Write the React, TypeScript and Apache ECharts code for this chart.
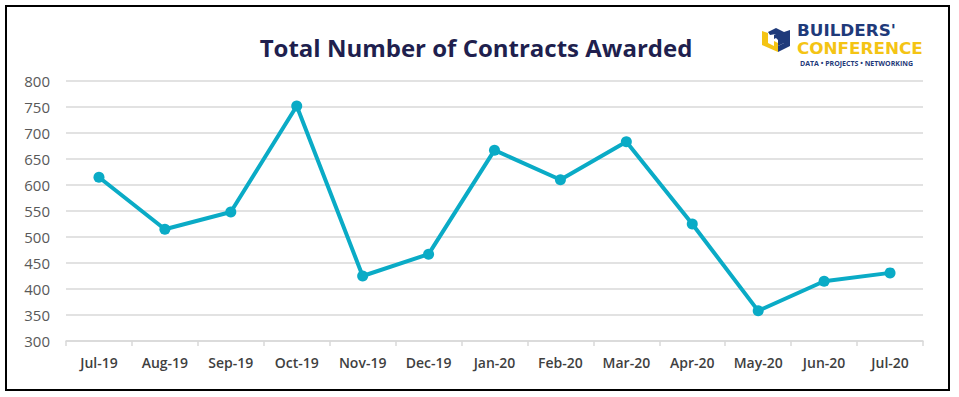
import React, { useEffect, useRef } from "react";
import * as echarts from "echarts";

const categories = ["Jul-19", "Aug-19", "Sep-19", "Oct-19", "Nov-19", "Dec-19", "Jan-20", "Feb-20", "Mar-20", "Apr-20", "May-20", "Jun-20", "Jul-20"];
const contracts = [615, 515, 548, 752, 425, 467, 667, 610, 683, 525, 358, 415, 431];
const yMin = 300;
const yMax = 800;
const yStep = 50;
const titleText = "Total Number of Contracts Awarded";

export default function App() {
  const ref = useRef<HTMLDivElement>(null);
  useEffect(() => {
    if (!ref.current) return;
    const chart = echarts.init(ref.current, null, { renderer: "svg" });
    const navy = "#1f3a7a";
    const yellow = "#f4c414";
    chart.setOption({
      animation: false,
      backgroundColor: "#ffffff",
      title: {
        text: titleText,
        left: 471,
        textAlign: "center",
        top: 30,
        textStyle: { fontFamily: "Open Sans", fontWeight: "bold", fontSize: 24, color: "#201f4e" },
      },
      grid: { left: 66, right: 36, top: 81, bottom: 56 },
      xAxis: {
        type: "category",
        data: categories,
        boundaryGap: true,
        axisLine: { show: true, lineStyle: { color: "#d9d9d9", width: 1.5 } },
        axisTick: { show: true, length: 5, lineStyle: { color: "#d9d9d9", width: 1.5 } },
        axisLabel: { color: "#3f3f3f", fontSize: 14, fontWeight: 600, fontFamily: "Open Sans", margin: 14 },
      },
      yAxis: {
        type: "value",
        min: yMin,
        max: yMax,
        interval: yStep,
        axisLine: { show: false },
        axisTick: { show: false },
        axisLabel: { color: "#595959", fontSize: 15, fontFamily: "Open Sans", margin: 16 },
        splitLine: { lineStyle: { color: "#d9d9d9", width: 1.5 } },
      },
      series: [
        {
          type: "line",
          data: contracts,
          symbol: "circle",
          symbolSize: 11,
          lineStyle: { color: "#0aabc6", width: 4 },
          itemStyle: { color: "#0aabc6" },
        },
      ],
      graphic: [
        {
          type: "rect",
          shape: { x: 6, y: 6, width: 943, height: 384 },
          style: { fill: "none", stroke: "#000000", lineWidth: 2 },
          silent: true,
        },
        {
          type: "group",
          left: 762,
          top: 28,
          children: [
            { type: "polygon", shape: { points: [[6, 5], [14, 1], [22, 5], [22, 16], [16, 19], [16, 13], [14, 11], [12, 12], [12, 8], [14, 7], [8, 8]] }, style: { fill: navy } },
            { type: "polygon", shape: { points: [[22, 5], [28, 3], [28, 19], [16, 25], [16, 19], [22, 16]] }, style: { fill: navy } },
            { type: "polygon", shape: { points: [[0, 4], [6, 6], [6, 16], [12, 19], [12, 14], [16, 16], [16, 25], [0, 18]] }, style: { fill: yellow } },
          ],
        },
        {
          type: "text",
          x: 797,
          y: 23,
          scaleX: 1.12,
          style: { text: "BUILDERS'", x: 0, y: 0, align: "left", verticalAlign: "top", fontFamily: "DejaVu Sans", fontWeight: "bold", fontSize: 15, fill: navy },
        },
        {
          type: "text",
          x: 797,
          y: 41,
          scaleX: 1.12,
          style: { text: "CONFERENCE", x: 0, y: 0, align: "left", verticalAlign: "top", fontFamily: "DejaVu Sans", fontWeight: "bold", fontSize: 15, fill: yellow },
        },
        {
          type: "text",
          x: 800,
          y: 59.5,
          style: { text: "DATA • PROJECTS • NETWORKING", x: 0, y: 0, align: "left", verticalAlign: "top", fontFamily: "Open Sans", fontWeight: "bold", fontSize: 7, fill: navy },
        },
      ],
    });
    return () => chart.dispose();
  }, []);
  return <div ref={ref} style={{ position: "fixed", left: 0, top: 0, width: 959, height: 397 }} />;
}
